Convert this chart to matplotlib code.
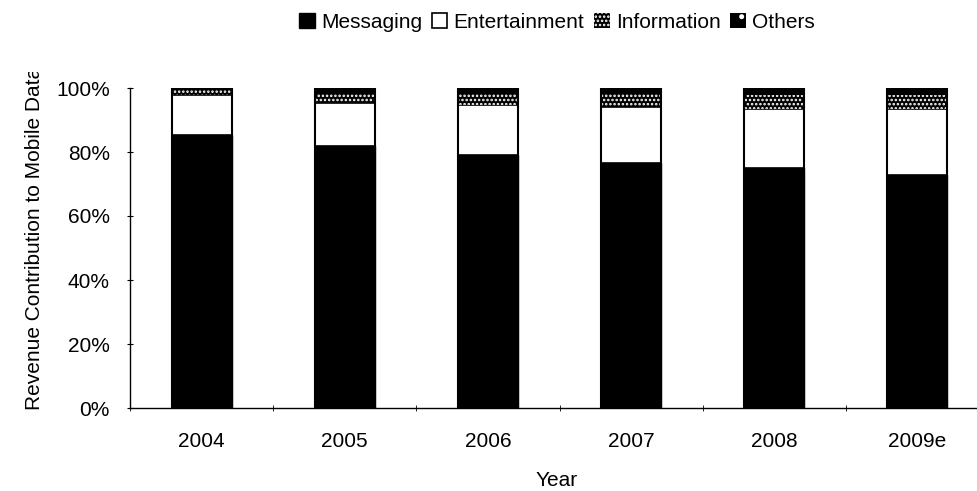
import numpy as np
import matplotlib
matplotlib.use('Agg')
import matplotlib.pyplot as plt
from matplotlib.patches import Rectangle
from matplotlib.ticker import PercentFormatter

plt.rcParams['font.family'] = ['Liberation Sans', 'DejaVu Sans']
plt.rcParams['hatch.linewidth'] = 1.2

years = ['2004', '2005', '2006', '2007', '2008', '2009e']
messaging = [85.3, 82.0, 79.0, 76.5, 75.0, 72.8]
entertainment = [12.5, 13.3, 15.7, 17.6, 18.4, 20.5]
information = [1.5, 3.0, 3.8, 4.0, 4.5, 4.5]
others = [0.7, 1.7, 1.5, 1.9, 2.1, 2.2]

W, H = 977, 491
FS = 15
fig = plt.figure(figsize=(W / 100, H / 100), dpi=100)
# plot area runs a little past the right edge of the canvas
ax = fig.add_axes([130 / W, 1 - 408 / H, 859 / W, 320 / H])

x = np.arange(len(years))
width = 0.42
msg = np.array(messaging) / 100
ent = np.array(entertainment) / 100
inf = np.array(information) / 100
oth = np.array(others) / 100

ax.bar(x, msg, width, color='black', edgecolor='black', linewidth=1, label='Messaging')
ax.bar(x, ent, width, bottom=msg, color='white', edgecolor='black', linewidth=1.2,
       label='Entertainment')
ax.bar(x, inf, width, bottom=msg + ent, color='black', edgecolor='white', linewidth=0,
       hatch='....', label='Information')
ax.bar(x, oth, width, bottom=msg + ent + inf, color='black', edgecolor='white', linewidth=0,
       hatch='.', label='Others')
# outline around each stacked column
ax.bar(x, msg + ent + inf + oth, width, fill=False, edgecolor='black', linewidth=1.5)

ax.set_xlim(-0.5, len(years) - 0.5)
ax.set_ylim(0, 1.0)
ax.yaxis.set_major_formatter(PercentFormatter(1.0, decimals=0))
ax.set_yticks(np.linspace(0, 1, 6))
ax.set_xticks(x)
ax.set_xticklabels(years)
ax.set_xticks(np.arange(len(years) + 1) - 0.5, minor=True)
ax.tick_params(axis='x', which='major', length=0, pad=17, labelsize=FS)
ax.tick_params(axis='x', which='minor', length=5, direction='inout')
ax.tick_params(axis='y', length=5, direction='inout', labelsize=FS, pad=12)
for side in ('top', 'right'):
    ax.spines[side].set_visible(False)
for side in ('left', 'bottom'):
    ax.spines[side].set_linewidth(1.0)

fig.text(557 / W, 1 - 481 / H, 'Year', ha='center', va='center', fontsize=FS)
ylab = fig.text(35 / W, 1 - 238 / H, 'Revenue Contribution to Mobile Data', rotation=90,
                ha='center', va='center', fontsize=FS)
clip = Rectangle((0, 0), W, H - 72, transform=None)
ylab.set_clip_path(clip)

handles, labels = ax.get_legend_handles_labels()
fig.legend(handles, labels, loc='center', bbox_to_anchor=(557 / W, 1 - 22 / H), ncol=4,
           frameon=False, fontsize=FS, handlelength=0.75, handleheight=0.75,
           handletextpad=0.3, columnspacing=0.45, borderaxespad=0)

fig.savefig('out.png', dpi=100)
